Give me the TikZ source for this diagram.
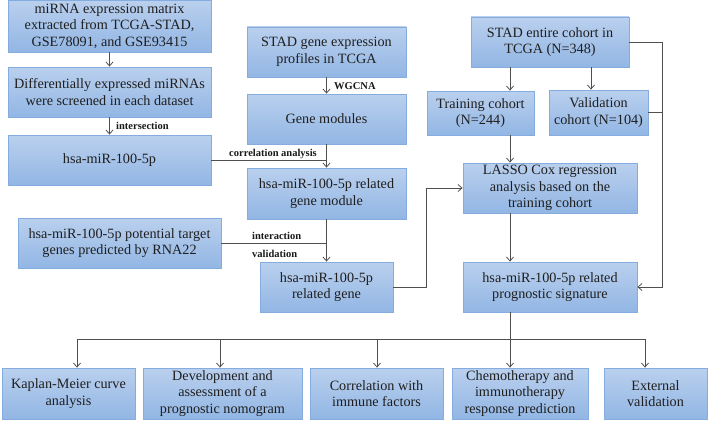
\documentclass[tikz,border=0pt]{standalone}
\usepackage{fontspec}
\setmainfont{Liberation Serif}
\usetikzlibrary{arrows.meta}
\definecolor{boxtop}{RGB}{186,208,238}
\definecolor{boxbot}{RGB}{146,182,228}
\definecolor{boxline}{RGB}{132,172,222}
\definecolor{linec}{RGB}{80,80,80}
\tikzset{
  box/.style={draw=boxline, line width=0.8pt, top color=boxtop, bottom color=boxbot, align=center, inner sep=2pt,
    font=\fontsize{14.2}{16.6}\selectfont, text=black!88},
  lab/.style={font=\bfseries\fontsize{10.5}{12}\selectfont, inner sep=1pt, text=black!90},
  conn/.style={draw=linec, line width=0.8pt},
  arr/.style={conn, -{Straight Barb[length=4pt,width=7pt]}}
}
\begin{document}
\begin{tikzpicture}[x=1pt,y=-1pt]
\useasboundingbox (0,0) rectangle (708,420);
% left column
\node[box, minimum width=203pt, minimum height=52pt] (b1) at (109.5,26) {miRNA expression matrix\\extracted from TCGA-STAD,\\GSE78091, and GSE93415};
\node[box, minimum width=203pt, minimum height=50pt] (b2) at (109.5,92) {Differentially expressed miRNAs\\were screened in each dataset};
\node[box, minimum width=203pt, minimum height=50pt] (b3) at (109.5,160) {hsa-miR-100-5p};
\node[box, minimum width=203pt, minimum height=50pt] (b7) at (119.5,243) {hsa-miR-100-5p potential target\\genes predicted by RNA22};
% middle column
\node[box, minimum width=159pt, minimum height=50pt] (b4) at (326.5,52) {STAD gene expression\\profiles in TCGA};
\node[box, minimum width=159pt, minimum height=50pt] (b5) at (326.5,119) {Gene modules};
\node[box, minimum width=159pt, minimum height=51pt] (b6) at (326.5,193.5) {hsa-miR-100-5p related\\gene module};
\node[box, minimum width=133pt, minimum height=50pt] (b8) at (326.5,287) {hsa-miR-100-5p\\related gene};
% right column
\node[box, minimum width=158pt, minimum height=50pt] (b9) at (550,42) {STAD entire cohort in\\TCGA (N=348)};
\node[box, minimum width=107pt, minimum height=44pt] (b10) at (480.5,113) {Training cohort\\(N=244)};
\node[box, minimum width=99pt, minimum height=45pt] (b11) at (598.5,112.5) {Validation\\cohort (N=104)};
\node[box, minimum width=174pt, minimum height=50pt] (b12) at (550,188) {LASSO Cox regression\\analysis based on the\\training cohort};
\node[box, minimum width=174pt, minimum height=50pt] (b13) at (550,287) {hsa-miR-100-5p related\\prognostic signature};
% bottom row
\node[box, minimum width=133pt, minimum height=51pt] (B1) at (68.5,393.5) {Kaplan-Meier curve\\analysis};
\node[box, minimum width=159pt, minimum height=51pt] (B2) at (222.5,393.5) {Development and\\assessment of a\\prognostic nomogram};
\node[box, minimum width=133pt, minimum height=51pt] (B3) at (376.5,393.5) {Correlation with\\immune factors};
\node[box, minimum width=136pt, minimum height=51pt] (B4) at (520,393.5) {Chemotherapy and\\immunotherapy\\response prediction};
\node[box, minimum width=103pt, minimum height=51pt] (B5) at (655.5,393.5) {External\\validation};
% helper coordinates
\coordinate (k1) at (426,0);
\coordinate (k2) at (662,0);
\coordinate (k3) at (510,0);
\coordinate (k4) at (591,0);
\coordinate (d1) at (77,339);
\coordinate (d2) at (220,339);
\coordinate (d3) at (377,339);
\coordinate (d4) at (510,339);
\coordinate (d5) at (645,339);
% connectors
\draw[arr] (b1) -- (b2);
\draw[arr] (b2) -- (b3);
\draw[arr] (b4) -- (b5);
\draw[arr] (b5) -- (b6);
\draw[conn] (b3.east) -- (b3.east -| b5.south);
\draw[arr] (b6) -- (b8);
\draw[conn] (b7.east) -- (b7.east -| b6.south);
\draw[arr] (b8.east) -- (b8.east -| k1) -- (k1 |- b12.west) -- (b12.west);
\draw[arr] (b9.east) -- (b9.east -| k2) -- (k2 |- b13.east) -- (b13.east);
\draw[conn] (b11.east) -- (b11.east -| k2);
\draw[arr] (b9.south -| k3) -- (b10.north -| k3);
\draw[arr] (b9.south -| k4) -- (b11.north -| k4);
\draw[arr] (b10.south -| k3) -- (b12.north -| k3);
\draw[arr] (b12.south -| k3) -- (b13.north -| k3);
\draw[conn] (b13.south -| k3) -- (d4);
\draw[conn] (d1) -- (d5);
\draw[arr] (d1) -- (d1 |- B1.north);
\draw[arr] (d2) -- (d2 |- B2.north);
\draw[arr] (d3) -- (d3 |- B3.north);
\draw[arr] (d4) -- (d4 |- B4.north);
\draw[arr] (d5) -- (d5 |- B5.north);
% labels
\node[lab, anchor=west] (l1) at (115,126) {intersection};
\node[lab, anchor=west] (l2) at (333,86) {WGCNA};
\node[lab] (l3) at (273,154) {correlation analysis};
\node[lab, anchor=west] (l4) at (251,236) {interaction};
\node[lab, anchor=west] (l5) at (251,254) {validation};
\end{tikzpicture}
\end{document}
